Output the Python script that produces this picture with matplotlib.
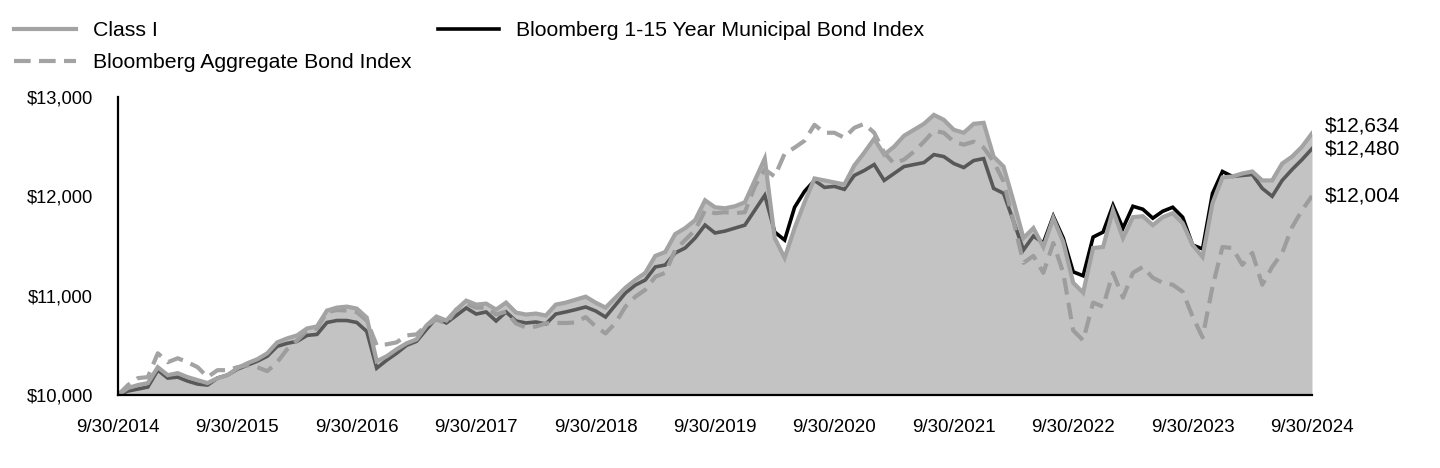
import numpy as np
import matplotlib
matplotlib.use("Agg")
import matplotlib.pyplot as plt
from matplotlib.ticker import FuncFormatter

plt.rcParams['font.family'] = ['Liberation Sans', 'DejaVu Sans']

# monthly growth of $10,000, 9/30/2014 .. 9/30/2024
class_i = [10000, 10070, 10100, 10120, 10280, 10200, 10220, 10180, 10150, 10120,
           10170, 10200, 10270, 10320, 10360, 10420, 10530, 10570, 10600, 10670,
           10690, 10850, 10880, 10890, 10870, 10780, 10340, 10390, 10460, 10520,
           10560, 10700, 10790, 10750, 10860, 10950, 10910, 10920, 10860, 10930,
           10830, 10810, 10820, 10800, 10910, 10930, 10960, 10990, 10930, 10880,
           10980, 11080, 11160, 11230, 11400, 11440, 11620, 11680, 11760, 11960,
           11890, 11880, 11900, 11940, 12160, 12380, 11580, 11380, 11680, 11940,
           12180, 12160, 12140, 12120, 12310, 12440, 12580, 12420, 12500, 12610,
           12670, 12730, 12820, 12770, 12670, 12640, 12730, 12740, 12400, 12300,
           11950, 11580, 11680, 11490, 11780, 11540, 11130, 11030, 11480, 11490,
           11860, 11580, 11790, 11800, 11710, 11790, 11830, 11730, 11510, 11390,
           11930, 12190, 12200, 12230, 12250, 12160, 12160, 12330, 12400, 12500,
           12634]

muni = [10000, 10040, 10060, 10080, 10250, 10170, 10180, 10140, 10110, 10100,
        10170, 10200, 10260, 10300, 10340, 10390, 10490, 10520, 10540, 10600,
        10610, 10730, 10750, 10750, 10730, 10640, 10270, 10350, 10420, 10500,
        10540, 10660, 10775, 10725, 10800, 10876, 10815, 10836, 10745, 10836,
        10745, 10725, 10735, 10715, 10815, 10836, 10860, 10886, 10846, 10785,
        10906, 11027, 11107, 11158, 11289, 11309, 11430, 11480, 11580, 11711,
        11631, 11650, 11680, 11710, 11860, 12010, 11640, 11560, 11890, 12050,
        12160, 12090, 12100, 12070, 12210, 12260, 12320, 12160, 12230, 12300,
        12320, 12340, 12420, 12400, 12330, 12290, 12360, 12380, 12080, 12030,
        11750, 11460, 11600, 11530, 11800, 11580, 11240, 11200, 11590, 11640,
        11910, 11680, 11900, 11870, 11780, 11850, 11890, 11790, 11510, 11470,
        12030, 12250, 12200, 12210, 12220, 12080, 12000, 12160, 12270, 12370,
        12480]

agg = [10000, 10100, 10170, 10180, 10420, 10330, 10370, 10330, 10280, 10180,
       10250, 10250, 10280, 10300, 10280, 10240, 10330, 10460, 10550, 10650,
       10670, 10835, 10855, 10850, 10835, 10750, 10500, 10510, 10530, 10600,
       10610, 10700, 10760, 10720, 10860, 10920, 10880, 10880, 10810, 10840,
       10720, 10680, 10690, 10720, 10725, 10725, 10730, 10785, 10690, 10620,
       10725, 10890, 10990, 11060, 11190, 11230, 11460, 11560, 11660, 11860,
       11830, 11840, 11830, 11840, 12100, 12270, 12200, 12430, 12490, 12560,
       12720, 12640, 12640, 12590, 12690, 12730, 12640, 12440, 12330, 12370,
       12450, 12550, 12660, 12640, 12550, 12520, 12550, 12490, 12350, 12150,
       11750, 11330, 11400, 11230, 11530, 11230, 10650, 10550, 10930, 10890,
       11230, 10980, 11230, 11290, 11180, 11130, 11110, 11040, 10790, 10580,
       11090, 11490, 11480, 11310, 11430, 11110, 11290, 11430, 11690, 11860,
       12004]

year_labels = ['9/30/2014', '9/30/2015', '9/30/2016', '9/30/2017', '9/30/2018',
               '9/30/2019', '9/30/2020', '9/30/2021', '9/30/2022', '9/30/2023',
               '9/30/2024']

names = ['Class I', 'Bloomberg Aggregate Bond Index',
         'Bloomberg 1-15 Year Municipal Bond Index']

x = np.arange(len(class_i))

fig = plt.figure(figsize=(14.4, 4.68), dpi=100)
ax = fig.add_axes([118/1440, 1-395/468, (1312-118)/1440, (395-97)/468])

# muni and aggregate under the translucent fill, Class I line on top
l_muni, = ax.plot(x, muni, color='black', lw=2.6, zorder=1, solid_joinstyle='miter')
l_agg, = ax.plot(x, agg, color='#a3a3a3', lw=3, dashes=(4, 2), zorder=2)
ax.fill_between(x, 10000, class_i, color='#999999', alpha=0.58, lw=0, zorder=3)
l_ci, = ax.plot(x, class_i, color='#a3a3a3', lw=3, zorder=4, solid_joinstyle='miter')

ax.set_xlim(0, 120)
ax.set_ylim(10000, 13000)
ax.set_xticks(np.arange(0, 121, 12))
ax.set_xticklabels(year_labels)
ax.set_yticks([10000, 11000, 12000, 13000])
ax.yaxis.set_major_formatter(FuncFormatter(lambda v, p: '${:,.0f}'.format(v)))
ax.tick_params(axis='x', length=0, pad=17, labelsize=13.5)
ax.tick_params(axis='y', length=0, pad=18, labelsize=13.2)

for s in ['top', 'right']:
    ax.spines[s].set_visible(False)
for s in ['left', 'bottom']:
    ax.spines[s].set_linewidth(1.6)
    ax.spines[s].set_zorder(5)

# end values
ax.annotate('${:,.0f}'.format(class_i[-1]), (x[-1], class_i[-1]), xytext=(9, 5),
            textcoords='offset points', va='center', fontsize=15, annotation_clip=False)
ax.annotate('${:,.0f}'.format(muni[-1]), (x[-1], muni[-1]), xytext=(9, 0),
            textcoords='offset points', va='center', fontsize=15, annotation_clip=False)
ax.annotate('${:,.0f}'.format(agg[-1]), (x[-1], agg[-1]), xytext=(9, 0),
            textcoords='offset points', va='center', fontsize=15, annotation_clip=False)

fig.legend([l_ci, l_agg, l_muni], names, ncol=2, loc='upper left',
           bbox_to_anchor=(14/1440, 1-21/468), frameon=False, fontsize=15.3,
           handlelength=2.9, handletextpad=0.8, columnspacing=1.25,
           labelspacing=0.62, borderpad=0, borderaxespad=0)

fig.savefig('out.png', dpi=100)
